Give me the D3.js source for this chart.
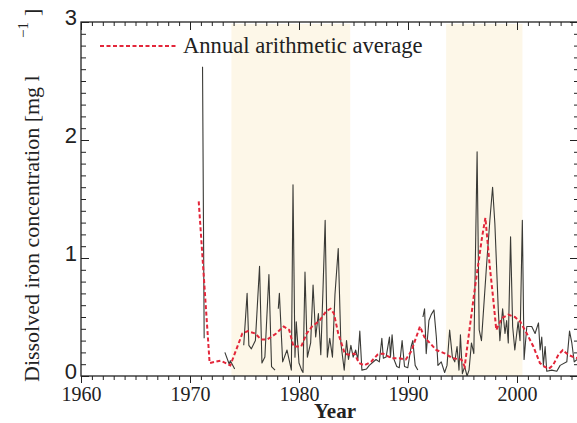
<!DOCTYPE html>
<html>
<head>
<meta charset="utf-8">
<script src="https://cdn.jsdelivr.net/npm/d3@7"></script>
<style>
  body { margin: 0; background: #fff; }
  svg { display: block; }
</style>
</head>
<body>
<div id="chart"></div>
<script>
// monthly samples [year, mg/l], null = gap in record
var ironSamples = [
  [1971.15, 2.62], [1971.3, 0.32], null,
  [1973.2, 0.20], [1973.6, 0.10], [1973.7, 0.13], [1974.1, 0.06], null,
  [1974.93, 0.26], [1975.24, 0.70], [1975.4, 0.26], [1975.63, 0.23], [1976.0, 0.30],
  [1976.38, 0.93], [1976.6, 0.11], [1976.87, 0.16], [1977.24, 0.86], [1977.48, 0.08],
  [1977.8, 0.05], null,
  [1978.1, 0.57], [1978.2, 0.70], [1978.5, 0.12], [1978.9, 0.22], [1979.3, 0.05],
  [1979.45, 1.62], [1979.63, 0.16], [1979.75, 0.46], [1980.0, 0.11], [1980.24, 0.05],
  [1980.37, 0.03], [1980.55, 0.88], [1980.77, 0.16], [1981.07, 0.28], [1981.29, 0.77],
  [1981.53, 0.33], [1981.78, 0.53], [1982.0, 0.18], [1982.2, 0.73], [1982.4, 1.32],
  [1982.6, 0.16], [1982.82, 0.32], [1983.07, 0.16], [1983.3, 0.69], [1983.6, 1.08],
  [1983.84, 0.28], [1984.15, 0.05], [1984.36, 0.30], [1984.54, 0.14], [1984.76, 0.26],
  [1984.97, 0.16], [1985.2, 0.22], [1985.4, 0.14], [1985.58, 0.38], [1985.77, 0.05],
  [1986.2, 0.06], [1986.45, 0.09], [1987.07, 0.14], [1987.37, 0.12], [1987.6, 0.32],
  [1987.74, 0.15], [1987.99, 0.16], [1988.3, 0.33], [1988.39, 0.16], [1988.54, 0.35],
  [1988.72, 0.14], [1988.97, 0.08], [1989.2, 0.07], [1989.46, 0.30], [1989.68, 0.08],
  [1989.98, 0.07], [1990.29, 0.25], [1990.44, 0.30], [1990.66, 0.09], [1990.9, 0.05], null,
  [1991.37, 0.50], [1991.52, 0.57], [1991.67, 0.19], [1991.92, 0.47], [1992.13, 0.52],
  [1992.38, 0.56], [1992.6, 0.33], [1992.75, 0.09], [1993.05, 0.12], [1993.36, 0.03],
  [1993.58, 0.09], [1993.82, 0.39], [1994.07, 0.16], [1994.29, 0.12], [1994.5, 0.25],
  [1994.68, 0.05], [1994.81, 0.35], [1994.99, 0.02], [1995.2, 0.08], [1995.42, 0.0],
  [1995.6, 0.05], [1995.82, 0.28], [1996.04, 0.19], [1996.34, 1.90], [1996.53, 0.39],
  [1996.74, 0.30], [1997.2, 0.93], [1997.51, 1.32], [1997.76, 1.60], [1997.97, 1.29],
  [1998.28, 0.57], [1998.43, 0.30], [1998.68, 0.57], [1998.9, 0.36], [1999.05, 0.47],
  [1999.2, 0.28], [1999.41, 1.18], [1999.6, 0.42], [1999.8, 0.22], [2000.1, 0.46],
  [2000.28, 0.30], [2000.49, 1.32], [2000.65, 0.14], [2000.9, 0.42], [2001.35, 0.42],
  [2001.66, 0.36], [2001.97, 0.45], [2002.12, 0.22], [2002.27, 0.33], [2002.42, 0.09],
  [2002.58, 0.25], [2002.73, 0.04], [2003.19, 0.05], [2003.65, 0.04], [2003.96, 0.09],
  [2004.57, 0.12], [2004.82, 0.38], [2005.03, 0.28], [2005.25, 0.12], [2005.5, 0.14]
];

// annual arithmetic average (red dashed)
var annualMeans = [
  [1970.8, 1.48], [1971.8, 0.11], [1972.8, 0.13], [1973.7, 0.09], [1974.8, 0.36],
  [1975.3, 0.38], [1976.0, 0.36], [1976.5, 0.31], [1977.1, 0.31], [1977.9, 0.36],
  [1978.6, 0.42], [1979.1, 0.39], [1979.5, 0.25], [1980.2, 0.25], [1980.7, 0.36],
  [1981.2, 0.42], [1981.9, 0.47], [1982.5, 0.55], [1982.9, 0.57], [1983.2, 0.53],
  [1983.6, 0.36], [1984.2, 0.19], [1984.6, 0.18], [1985.1, 0.19], [1985.5, 0.11],
  [1986.0, 0.09], [1986.6, 0.12], [1987.2, 0.18], [1987.7, 0.19], [1988.5, 0.15],
  [1989.2, 0.15], [1989.8, 0.14], [1990.3, 0.21], [1991.1, 0.42], [1991.5, 0.33],
  [1992.0, 0.28], [1992.6, 0.22], [1993.4, 0.19], [1994.1, 0.15], [1994.9, 0.14],
  [1995.2, 0.08], [1996.1, 0.72], [1996.8, 1.18], [1997.1, 1.34], [1997.5, 0.93],
  [1997.8, 0.67], [1998.1, 0.39], [1998.6, 0.49], [1999.2, 0.52], [1999.8, 0.50],
  [2000.3, 0.46], [2000.9, 0.36], [2001.5, 0.25], [2002.1, 0.11], [2002.5, 0.08],
  [2002.9, 0.06], [2003.3, 0.09], [2003.8, 0.18], [2004.2, 0.22], [2004.7, 0.18],
  [2005.2, 0.16], [2005.6, 0.15]
];

// shaded periods
var shadedPeriods = [[1973.8, 1984.7], [1993.5, 2000.5]];

var decadeTicks = [1960, 1970, 1980, 1990, 2000];
var yearTicks = d3.range(1960, 2006);
var yMajorTicks = [0, 1, 2, 3];
var yMinorTicks = d3.range(0, 31).map(function(d) { return d / 10; });

var svg_width = 577;
var svg_height = 423;
var plot = { left: 81, top: 22, right: 578, bottom: 376 };
var serif = "'Liberation Serif', 'Times New Roman', serif";

var svg = d3.select("#chart").append("svg")
  .attr("width", svg_width)
  .attr("height", svg_height);

var x_scale = d3.scaleLinear()
  .domain([1960, 1960 + (plot.right - plot.left) / 10.9])
  .range([plot.left, plot.right]);

var y_scale = d3.scaleLinear()
  .domain([0, 3])
  .range([plot.bottom, plot.top]);

svg.append("clipPath").attr("id", "plot_clip")
  .append("rect")
  .attr("x", plot.left).attr("y", plot.top)
  .attr("width", plot.right - plot.left)
  .attr("height", plot.bottom - plot.top);

// shaded periods
svg.append("g").selectAll("rect")
  .data(shadedPeriods)
  .enter().append("rect")
  .attr("x", function(d) { return x_scale(d[0]); })
  .attr("width", function(d) { return x_scale(d[1]) - x_scale(d[0]); })
  .attr("y", plot.top + 2)
  .attr("height", plot.bottom - plot.top - 2)
  .attr("fill", "#fdf7e8");

var data_g = svg.append("g").attr("clip-path", "url(#plot_clip)");

var line = d3.line()
  .defined(function(d) { return d !== null; })
  .x(function(d) { return x_scale(d[0]); })
  .y(function(d) { return y_scale(d[1]); });

data_g.append("path")
  .datum(ironSamples)
  .attr("fill", "none")
  .attr("stroke", "#3a3a36")
  .attr("stroke-width", 1.1)
  .attr("stroke-linejoin", "round")
  .attr("d", line);

data_g.append("path")
  .datum(annualMeans)
  .attr("fill", "none")
  .attr("stroke", "#e3263a")
  .attr("stroke-width", 2)
  .attr("stroke-dasharray", "4,2.5")
  .attr("d", line);

// axes
function styleAxis(g) {
  g.select(".domain").remove();
  g.selectAll("line").attr("stroke", "#222").attr("stroke-width", 1);
}

// bottom (ticks hang down)
svg.append("g")
  .attr("transform", `translate(0, ${plot.bottom})`)
  .call(d3.axisBottom(x_scale).tickValues(yearTicks).tickSize(4).tickFormat(""))
  .call(styleAxis);
svg.append("g")
  .attr("transform", `translate(0, ${plot.bottom})`)
  .call(d3.axisBottom(x_scale).tickValues(decadeTicks).tickSize(7).tickPadding(4).tickFormat(d3.format("d")))
  .call(styleAxis)
  .selectAll("text")
  .attr("font-family", serif)
  .attr("font-size", "20px")
  .attr("fill", "#222");

// top (ticks point inward)
svg.append("g")
  .attr("transform", `translate(0, ${plot.top})`)
  .call(d3.axisBottom(x_scale).tickValues(yearTicks).tickSize(4).tickFormat(""))
  .call(styleAxis);
svg.append("g")
  .attr("transform", `translate(0, ${plot.top})`)
  .call(d3.axisBottom(x_scale).tickValues(decadeTicks).tickSize(8).tickFormat(""))
  .call(styleAxis);

// left (ticks inward)
svg.append("g")
  .attr("transform", `translate(${plot.left}, 0)`)
  .call(d3.axisRight(y_scale).tickValues(yMinorTicks).tickSize(5).tickFormat(""))
  .call(styleAxis);
svg.append("g")
  .attr("transform", `translate(${plot.left}, 0)`)
  .call(d3.axisRight(y_scale).tickValues(yMajorTicks).tickSize(8).tickFormat(""))
  .call(styleAxis);
svg.append("g")
  .attr("transform", `translate(${plot.left}, 0)`)
  .call(d3.axisLeft(y_scale).tickValues(yMajorTicks).tickSize(0).tickPadding(4).tickFormat(d3.format("d")))
  .call(styleAxis)
  .selectAll("text")
  .attr("y", -5)
  .attr("font-family", "'Liberation Sans', Arial, sans-serif")
  .attr("font-size", "22px")
  .attr("fill", "#222");

// right (ticks inward)
svg.append("g")
  .attr("transform", `translate(${plot.right}, 0)`)
  .call(d3.axisLeft(y_scale).tickValues(yMinorTicks).tickSize(4).tickFormat(""))
  .call(styleAxis);
svg.append("g")
  .attr("transform", `translate(${plot.right}, 0)`)
  .call(d3.axisLeft(y_scale).tickValues(yMajorTicks).tickSize(8).tickFormat(""))
  .call(styleAxis);

// frame
svg.append("rect")
  .attr("x", plot.left).attr("y", plot.top)
  .attr("width", plot.right - plot.left)
  .attr("height", plot.bottom - plot.top)
  .attr("fill", "none")
  .attr("stroke", "#222")
  .attr("stroke-width", 1.3);

// axis titles
svg.append("text")
  .attr("x", 335).attr("y", 418)
  .attr("text-anchor", "middle")
  .attr("font-family", serif)
  .attr("font-weight", "bold")
  .attr("font-size", "21px")
  .attr("fill", "#222")
  .text("Year");

var ytitle = svg.append("g").attr("transform", "translate(39, 382) rotate(-90)");
ytitle.append("text")
  .attr("x", 0).attr("y", 0)
  .attr("font-family", serif)
  .attr("font-size", "22px")
  .attr("fill", "#222")
  .text("Dissolved iron concentration [mg l");
ytitle.append("text")
  .attr("x", 344).attr("y", -11)
  .attr("font-family", serif)
  .attr("font-size", "15px")
  .attr("fill", "#222")
  .text("\u22121");
ytitle.append("text")
  .attr("x", 366).attr("y", 0)
  .attr("font-family", serif)
  .attr("font-size", "22px")
  .attr("fill", "#222")
  .text("]");

// legend
svg.append("line")
  .attr("x1", 100).attr("x2", 176)
  .attr("y1", 46).attr("y2", 46)
  .attr("stroke", "#e3263a")
  .attr("stroke-width", 2)
  .attr("stroke-dasharray", "4,2.5");
svg.append("text")
  .attr("x", 183).attr("y", 53)
  .attr("font-family", serif)
  .attr("font-size", "22.6px")
  .attr("fill", "#222")
  .text("Annual arithmetic average");
</script>
</body>
</html>
